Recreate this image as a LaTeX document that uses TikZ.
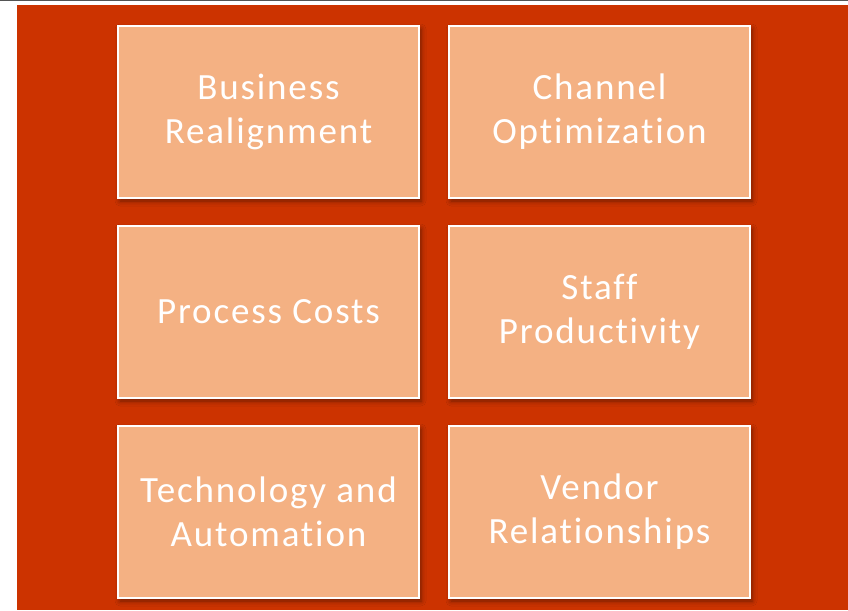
\documentclass[tikz,border=0pt]{standalone}
\usepackage{fontspec}
\setmainfont[Ligatures=NoCommon,LetterSpace=5]{Carlito}
\usetikzlibrary{positioning,shadows.blur}

\definecolor{slidered}{RGB}{204,51,0}
\definecolor{tilefill}{RGB}{244,177,131}
\definecolor{rulegray}{RGB}{85,85,85}

\begin{document}
\begin{tikzpicture}[x=1pt,y=-1pt,node distance=200pt and 331pt,on grid]
\tikzset{tile/.style={draw=white,line width=1.3pt,fill=tilefill,
    minimum width=301pt,minimum height=172pt,inner sep=0pt,
    align=center,text=white,font=\fontsize{37}{44}\selectfont,
    blur shadow={shadow xshift=2pt,shadow yshift=-3pt,shadow blur radius=5pt,shadow opacity=45}}}
  \useasboundingbox (0,0) rectangle (848,610);
  \fill[white] (0,0) rectangle (848,610);
  \fill[slidered] (17,5) rectangle (848,610);
  \draw[rulegray,line width=1.5pt] (0,0.75) -- (848,0.75);

  \node[tile]  (BR)  at (268.5,112)  {Business\\Realignment};
  \node[tile]  (CO)  [right =of BR]  {Channel\\Optimization};
  \node[tile]  (PC)  [below =of BR]  {Process Costs};
  \node[tile]  (SP)  [right =of PC]  {Staff\\Productivity};
  \node[tile]  (TA)  [below =of PC]  {Technology and\\Automation};
  \node[tile]  (VR)  [right =of TA]  {Vendor\\Relationships};
\end{tikzpicture}
\end{document}
